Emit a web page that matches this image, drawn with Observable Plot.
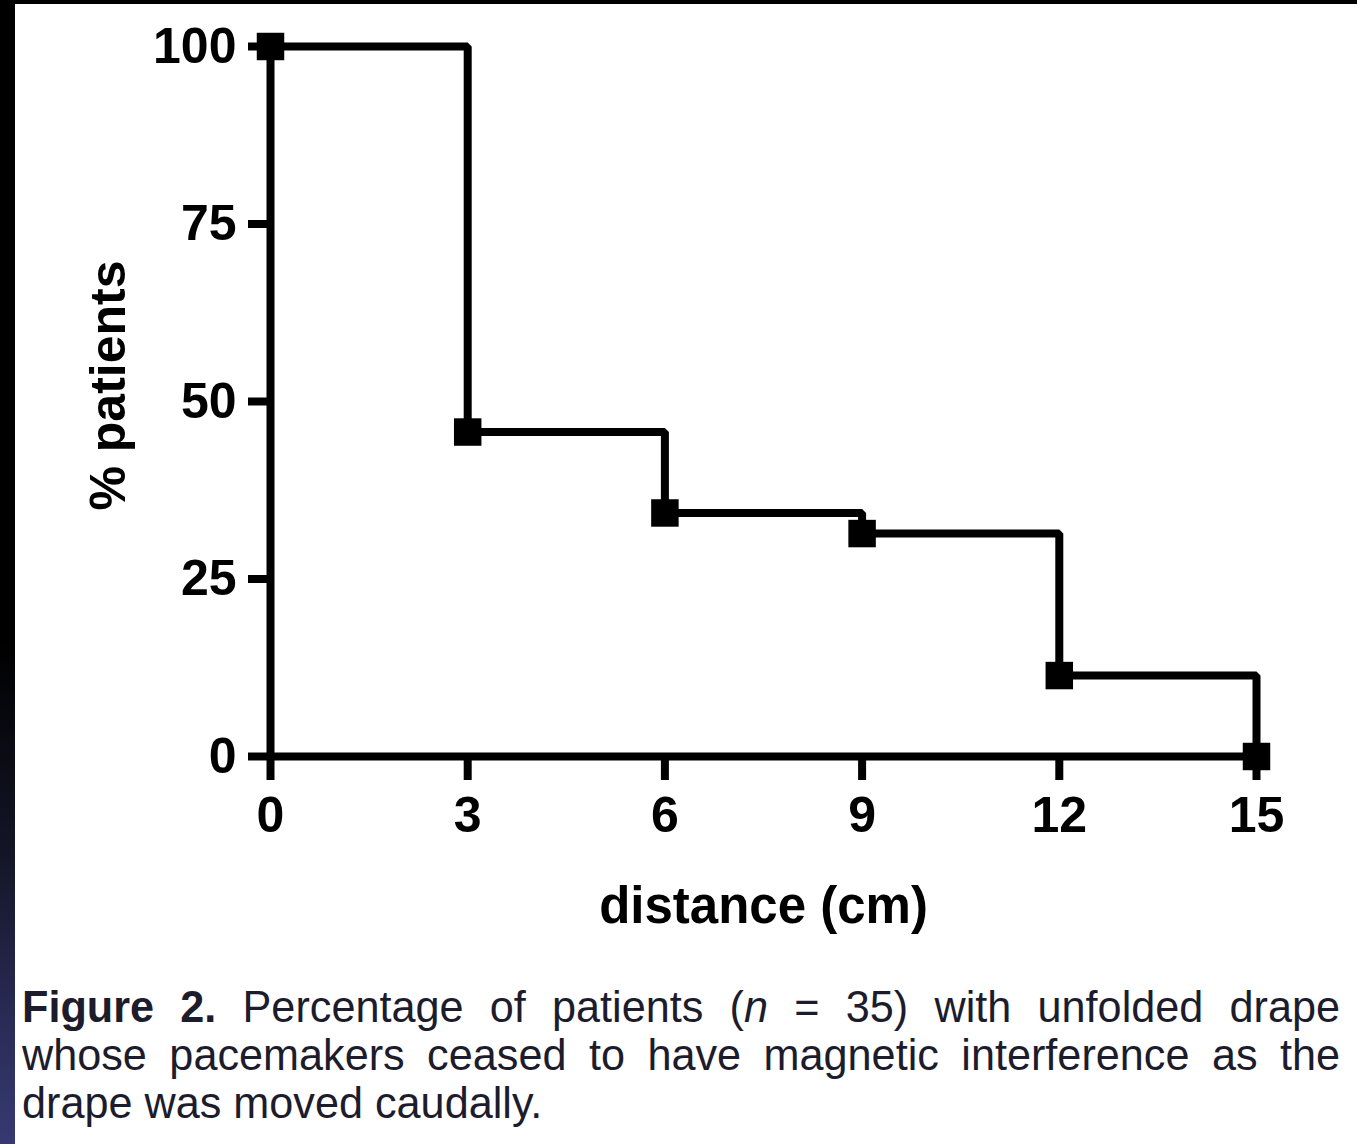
<!DOCTYPE html>
<html>
<head>
<meta charset="utf-8">
<script src="https://cdn.jsdelivr.net/npm/d3@7"></script>
<script src="https://cdn.jsdelivr.net/npm/@observablehq/plot@0.6"></script>
<style>
  html, body { margin: 0; padding: 0; background: #fff; }
  #page { position: relative; width: 1357px; height: 1144px; background: #fff; overflow: hidden; }
  #topband { position: absolute; left: 0; top: 0; width: 1357px; height: 4px; background: #000; z-index: 5; }
  #leftband { position: absolute; left: 0; top: 0; width: 15px; height: 1144px; z-index: 5;
    background: linear-gradient(to bottom, #000 0%, #000 56%, #141628 75%, #2a2d58 90%, #363a72 100%); }
  #chart { position: absolute; left: 0; top: 0; }
  #caption { position: absolute; left: 22px; top: 983px; width: 1373px;
    transform: scaleX(0.96); transform-origin: 0 0;
    font-family: "Liberation Sans", Arial, sans-serif;
    font-size: 45px; line-height: 48px; color: #1c1c2c; }
  #caption .j { text-align: justify; text-align-last: justify; }
  #caption .l { text-align: left; }
  #caption b { font-weight: bold; }
</style>
</head>
<body>
<div id="page">
  <div id="topband"></div>
  <div id="leftband"></div>
  <div id="chart"></div>
  <div id="caption">
    <div class="j"><b>Figure 2.</b> Percentage of patients (<i>n</i> = 35) with unfolded drape</div>
    <div class="j">whose pacemakers ceased to have magnetic interference as the</div>
    <div class="l">drape was moved caudally.</div>
  </div>
</div>
<script>
// Data
const distance = [0, 3, 6, 9, 12, 15];
const percentPatients = [100, 45.7, 34.3, 31.4, 11.4, 0];
const xTicks = [0, 3, 6, 9, 12, 15];
const yTicks = [0, 25, 50, 75, 100];
const xLabel = "distance (cm)";
const yLabel = "% patients";

const data = distance.map((d, i) => ({x: d, y: percentPatients[i]}));

const chart = Plot.plot({
  width: 1357,
  height: 950,
  marginLeft: 270,
  marginRight: 101,
  marginTop: 46,
  marginBottom: 194,
  x: {domain: [0, 15]},
  y: {domain: [0, 100]},
  style: {fontFamily: "'Liberation Sans', Arial, sans-serif", fontWeight: "bold", fontSize: "50px", color: "#000", background: "transparent"},
  marks: [
    Plot.axisY({ticks: yTicks, tickSize: 22, tickPadding: 12, stroke: "#000", strokeWidth: 8, label: null, fontSize: 50, tickFormat: d => String(d)}),
    Plot.axisX({ticks: xTicks, tickSize: 24, tickPadding: 16, stroke: "#000", strokeWidth: 8, label: null, fontSize: 50, tickFormat: d => String(d)}),
    Plot.ruleX([0], {y1: 0, y2: 100, stroke: "#000", strokeWidth: 8}),
    Plot.ruleY([0], {x1: 0, x2: 15, stroke: "#000", strokeWidth: 8}),
    Plot.line(data, {x: "x", y: "y", curve: "step-after", stroke: "#000", strokeWidth: 8, strokeLinejoin: "miter", strokeLinecap: "butt"}),
    Plot.dot(data, {x: "x", y: "y", symbol: "square", r: 15.5, fill: "#000", stroke: "none"}),
    Plot.text([xLabel], {frameAnchor: "bottom", textAnchor: "middle", dy: 166, fontSize: 51, fontWeight: "bold", fill: "#000"}),
    Plot.text([yLabel], {frameAnchor: "left", textAnchor: "middle", dx: -162, dy: -16, rotate: -90, fontSize: 50, fontWeight: "bold", fill: "#000"})
  ]
});
document.getElementById("chart").appendChild(chart);
</script>
</body>
</html>
